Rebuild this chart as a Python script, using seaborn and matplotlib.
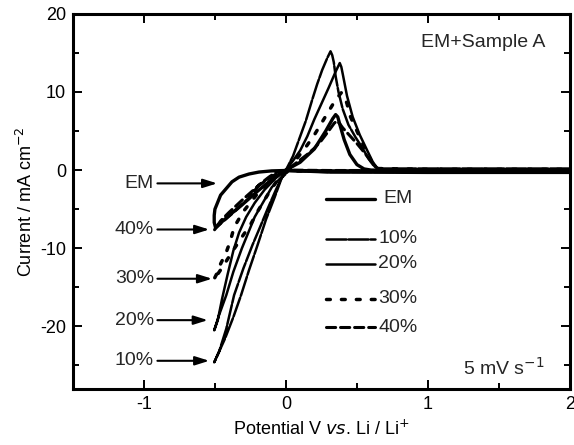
import matplotlib
matplotlib.use("Agg")
import matplotlib.pyplot as plt
import numpy as np
import pandas as pd
import seaborn as sns
from matplotlib.lines import Line2D

# ---- cyclic voltammograms, 5 mV/s (potential in V vs Li/Li+, current in mA cm-2)
series = ["EM", "10%", "20%", "30%", "40%"]

v_em = [2.0, 1.0, 0.3, 0.0, -0.1, -0.19, -0.26, -0.33, -0.38, -0.42, -0.46, -0.48, -0.5,
        -0.505, -0.505, -0.495, -0.45, -0.38, -0.3, -0.2, -0.1, -0.03, 0.0,
        0.1, 0.2, 0.28, 0.33, 0.35, 0.365, 0.38, 0.41, 0.45, 0.5, 0.55, 0.6, 1.0, 2.0]
i_em = [-0.1, -0.1, -0.1, -0.05, -0.1, -0.25, -0.5, -0.9, -1.5, -2.35, -3.2, -4.1, -5.0,
        -5.8, -6.7, -7.4, -6.6, -5.5, -4.3, -2.7, -1.2, -0.3, 0.0,
        1.0, 2.7, 5.0, 6.6, 7.1, 6.8, 5.8, 3.9, 2.0, 0.7, 0.15, 0.0, 0.0, 0.0]

v_10 = [2.0, 1.0, 0.3, 0.02, -0.03, -0.08, -0.14, -0.2, -0.26, -0.316, -0.37, -0.43, -0.505,
        -0.47, -0.42, -0.365, -0.3, -0.236, -0.18, -0.13, -0.07, -0.02, 0.0,
        0.05, 0.09, 0.14, 0.185, 0.22, 0.255, 0.29, 0.314, 0.326, 0.337, 0.35, 0.37, 0.4,
        0.44, 0.49, 0.54, 0.58, 0.62, 0.65, 1.0, 2.0]
i_10 = [-0.25, -0.25, -0.25, -0.1, -1.0, -3.5, -6.3, -9.6, -12.8, -16.0, -18.8, -21.6, -24.6,
        -23.2, -20.3, -16.0, -12.6, -9.6, -7.2, -5.0, -2.5, -0.6, 0.0,
        1.8, 3.8, 6.3, 9.0, 11.0, 12.8, 14.3, 15.2, 14.7, 13.8, 12.0, 10.0, 7.8,
        5.8, 4.2, 2.8, 1.5, 0.5, 0.2, 0.2, 0.2]

v_20 = [2.0, 1.0, 0.3, 0.01, -0.1, -0.22, -0.31, -0.37, -0.42, -0.47, -0.505,
        -0.48, -0.45, -0.41, -0.37, -0.33, -0.28, -0.22, -0.15, -0.07, 0.0,
        0.05, 0.1, 0.15, 0.2, 0.25, 0.3, 0.35, 0.379, 0.39, 0.4, 0.43, 0.47, 0.52, 0.57,
        0.61, 0.64, 0.67, 1.0, 2.0]
i_20 = [-0.35, -0.35, -0.3, -0.1, -2.2, -6.0, -10.0, -13.0, -16.0, -18.5, -20.5,
        -19.2, -16.5, -13.3, -10.3, -8.0, -6.0, -4.2, -2.5, -1.0, 0.0,
        1.2, 2.5, 4.3, 6.5, 8.5, 10.5, 12.6, 13.7, 13.2, 12.3, 9.5, 6.8, 4.5, 2.6,
        1.1, 0.3, -0.1, -0.1, -0.1]

v_30 = [2.0, 1.0, 0.3, 0.01, -0.05, -0.13, -0.2, -0.25, -0.3, -0.38, -0.45, -0.51,
        -0.48, -0.46, -0.42, -0.39, -0.365, -0.3, -0.2, -0.1, 0.0,
        0.05, 0.1, 0.15, 0.2, 0.25, 0.3, 0.35, 0.39, 0.41, 0.43, 0.45, 0.5, 0.55, 0.6,
        0.64, 1.0, 2.0]
i_30 = [-0.15, -0.15, -0.15, -0.1, -1.0, -3.2, -5.3, -7.0, -8.3, -10.5, -12.5, -14.1,
        -13.0, -12.0, -10.5, -9.0, -7.3, -5.3, -3.0, -1.2, 0.0,
        0.9, 2.0, 3.2, 4.5, 6.0, 7.5, 9.0, 9.9, 9.5, 8.5, 7.0, 5.0, 3.0, 1.2,
        0.2, 0.1, 0.1]

v_40 = [2.0, 1.0, 0.3, 0.0, -0.1, -0.2, -0.3, -0.4, -0.46, -0.505,
        -0.49, -0.42, -0.35, -0.26, -0.19, -0.12, -0.07, 0.0,
        0.05, 0.1, 0.15, 0.2, 0.25, 0.3, 0.34, 0.36, 0.38, 0.4, 0.45, 0.5, 0.55, 0.6,
        0.64, 0.67, 1.0, 2.0]
i_40 = [-0.05, -0.05, -0.05, 0.0, -0.8, -2.1, -3.7, -5.4, -6.5, -7.7,
        -7.3, -6.2, -5.1, -3.6, -1.9, -0.9, -0.3, 0.0,
        0.6, 1.3, 2.0, 2.8, 3.8, 5.0, 6.0, 6.3, 5.9, 5.4, 4.4, 3.4, 2.3, 1.1,
        0.3, 0.0, 0.05, 0.05]

# arrow labels at the cathodic end of each scan
arrow_labels = ["EM", "40%", "30%", "20%", "10%"]
arrow_tip_v = [-0.484, -0.54, -0.52, -0.55, -0.54]
arrow_y = [-1.7, -7.6, -13.9, -19.2, -24.4]

frames = []
for name, v, i in zip(series, [v_em, v_10, v_20, v_30, v_40],
                      [i_em, i_10, i_20, i_30, i_40]):
    frames.append(pd.DataFrame({"V": v, "I": i, "sample": name, "order": range(len(v))}))
df = pd.concat(frames, ignore_index=True)

styles = {
    "EM": dict(linestyle="-", lw=2.4),
    "10%": dict(linestyle=(0, (8, 0.8)), lw=1.8),
    "20%": dict(linestyle="-", lw=1.8),
    "30%": dict(linestyle=(0, (1.1, 3.2)), lw=2.5),
    "40%": dict(linestyle=(0, (3, 1.6)), lw=2.2),
}

sns.set_theme(style="ticks")
plt.rcParams["font.family"] = ["Liberation Sans", "DejaVu Sans"]
plt.rcParams["axes.unicode_minus"] = False

fig = plt.figure(figsize=(5.74, 4.45), dpi=100)
ax = fig.add_axes([0.127, 0.126, 0.866, 0.843])

for name in series:
    sub = df[df["sample"] == name]
    sns.lineplot(data=sub, x="V", y="I", sort=False, estimator=None, color="black",
                 legend=False, ax=ax, solid_capstyle="butt", dash_capstyle="round",
                 **styles[name])

ax.set_xlim(-1.5, 2.0)
ax.set_ylim(-28, 20)
ax.set_xticks([-1, 0, 1, 2])
ax.set_xticks([-0.5, 0.5, 1.5], minor=True)
ax.set_yticks([-20, -10, 0, 10, 20])
ax.set_yticks([-25, -15, -5, 5, 15], minor=True)
ax.tick_params(which="both", direction="in", top=True, right=True, width=1.4,
               labelsize=13, colors="black", pad=5)
ax.tick_params(which="major", length=6.5)
ax.tick_params(which="minor", length=4.5)
for sp in ax.spines.values():
    sp.set_linewidth(2.2)
    sp.set_color("black")

ax.set_xlabel(r"Potential V $\it{vs}$. Li / Li$^{+}$", fontsize=13, color="black", labelpad=5)
ax.set_ylabel("Current / mA cm$^{-2}$", fontsize=13, color="black", labelpad=3)

ax.text(1.83, 16.3, "EM+Sample A", fontsize=14, ha="right", va="center")
ax.text(1.82, -25.3, "5 mV s$^{-1}$", fontsize=14, ha="right", va="center")

# arrows pointing at the end of each cathodic sweep
for lab, tip, y in zip(arrow_labels, arrow_tip_v, arrow_y):
    ax.annotate("", xy=(tip, y), xytext=(-0.905, y),
                arrowprops=dict(arrowstyle="-|>,head_length=0.7,head_width=0.22",
                                color="black", lw=1.5, shrinkA=0, shrinkB=0))
    ax.text(-0.93, y, lab, fontsize=14, ha="right", va="center")

# legend keys
key_y = [0.507, 0.400, 0.334, 0.241, 0.164]
for name, ky in zip(series, key_y):
    st = styles[name]
    ax.add_line(Line2D([0.51, 0.608], [ky, ky], transform=ax.transAxes, color="black",
                       linestyle=st["linestyle"], lw=st["lw"], dash_capstyle="round"))
    ax.text(0.614 if name != "EM" else 0.625, ky, name, transform=ax.transAxes,
            fontsize=14, ha="left", va="center")

fig.savefig("out.png", dpi=100, facecolor="white")
